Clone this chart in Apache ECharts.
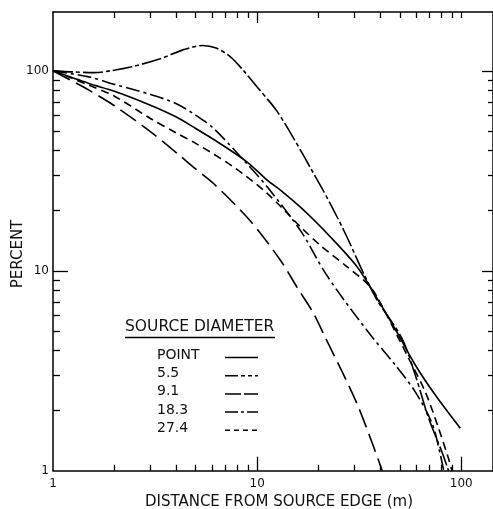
<!DOCTYPE html>
<html><head><meta charset="utf-8">
<script src="https://cdn.jsdelivr.net/npm/echarts@6/dist/echarts.min.js"></script>
<style>html,body{margin:0;padding:0;background:#fff}#c{width:493px;height:509px}</style>
</head><body><div id="c"></div>
<script>
// ---- data ----
const seriesNames = ['POINT', '5.5', '9.1', '18.3', '27.4'];

const pointX = [1, 1.5, 2, 3, 4, 5, 6.1, 8.9, 11.2, 13, 16.9, 22.8, 30.8, 38.7, 47.5, 59.5, 74.6, 98.9];
const pointY = [100, 86.5, 79, 67.3, 58.9, 51.5, 45.5, 35.1, 28.4, 25.3, 20.1, 14.8, 10.5, 7.28, 5.1, 3.38, 2.39, 1.63];

const d55X = [1, 1.25, 1.6, 1.9, 2.4, 3.35, 4.3, 5.4, 6.3, 7.4, 8.6, 10, 12.4, 15.3, 18.5, 22.8, 27.5, 33.2, 38.7, 51.2, 59.5, 69.2, 80.4, 86.6];
const d55Y = [100, 98.8, 98, 100, 104.5, 115, 127, 134, 130, 117.5, 100, 83, 63.6, 44.9, 31.9, 21.7, 14.8, 9.7, 7.14, 4.59, 3.01, 1.83, 1.24, 1.0];

const d91X = [1, 1.5, 2, 3, 4, 5, 6.1, 9.2, 13, 15.65, 18.9, 21.1, 30.8, 41];
const d91Y = [100, 80.1, 66.9, 49.7, 39.1, 32.3, 27.4, 17.9, 11.3, 8.3, 6.12, 4.86, 2.17, 1.0];

const d183X = [1, 1.5, 2, 3, 4, 5, 6.1, 8.9, 11.2, 16.5, 21.1, 26.5, 36.5, 47.5, 59.5, 72, 79, 82];
const d183Y = [100, 93.3, 85.6, 76.2, 68.7, 60, 51.7, 34.4, 26.3, 15.6, 10.1, 7.2, 4.68, 3.38, 2.48, 1.72, 1.2, 1.0];

const d274X = [1, 1.5, 2, 3, 4, 5, 7.65, 11.2, 16.3, 20.4, 27.5, 34.5, 38.7, 55.2, 66.6, 77.4, 86.6, 90];
const d274Y = [100, 84.8, 74.7, 57.8, 49, 43.4, 33.1, 24.4, 16.6, 13.4, 10.5, 8.65, 7.4, 3.65, 2.48, 1.63, 1.15, 1.0];

const tickLabels = [1, 10, 100];
const minorLow = [2, 3, 4, 5, 6, 7, 8, 9];
const minorHigh = [20, 30, 40, 50, 60, 70, 80, 90];

const xTitle = 'DISTANCE FROM SOURCE EDGE (m)';
const yTitle = 'PERCENT';
const legendTitle = 'SOURCE DIAMETER';

// ---- styles ----
const FONT = 'DejaVu Sans';
const INK = '#000';
const dashes = ['solid', [20, 3, 4, 3], [19, 7], [14, 4, 3, 4], [8, 5]];
const legendDashes = [null, [13, 3, 4, 3, 4, 3], [16, 3], [13, 3, 3, 3], [5, 4]];

const XMIN = 1, XMAX = 143, YMIN = 1, YMAX = 197;

function axis(kind, pos, ticks, len, showLabel, showLine) {
  const a = {
    type: 'log', logBase: 10, position: pos, gridIndex: 0,
    min: kind === 'x' ? XMIN : YMIN, max: kind === 'x' ? XMAX : YMAX,
    splitLine: { show: false },
    axisLine: { show: showLine, lineStyle: { color: INK, width: 1.5 } },
    axisTick: { show: true, inside: true, length: len, customValues: ticks,
      lineStyle: { color: INK, width: 1.3 } },
    axisLabel: { show: showLabel }
  };
  if (showLabel) {
    a.axisLabel = { show: true, customValues: tickLabels, margin: kind === 'x' ? 7 : 4,
      color: '#111', fontSize: 12, fontFamily: FONT };
  }
  return a;
}

const xs = [pointX, d55X, d91X, d183X, d274X];
const ys = [pointY, d55Y, d91Y, d183Y, d274Y];

const series = seriesNames.map((name, k) => ({
  name: name, type: 'line', xAxisIndex: 0, yAxisIndex: 0,
  data: xs[k].map((x, i) => [x, ys[k][i]]),
  showSymbol: false, symbol: 'none', smooth: 0.3,
  lineStyle: { color: INK, width: 1.6, type: dashes[k] },
  silent: true, z: 5
}));

const graphic = [
  { type: 'text', x: 279, y: 502, style: { text: xTitle, font: '15px "DejaVu Sans"', fill: '#111', textAlign: 'center', textVerticalAlign: 'middle' } },
  { type: 'text', x: 18, y: 254, rotation: Math.PI / 2, style: { text: yTitle, font: '15px "DejaVu Sans"', fill: '#111', textAlign: 'center', textVerticalAlign: 'middle' } },
  { type: 'text', x: 125, y: 327, style: { text: legendTitle, font: '15.5px "DejaVu Sans"', fill: '#111', textAlign: 'left', textVerticalAlign: 'middle' } },
  { type: 'line', shape: { x1: 125, y1: 337.5, x2: 275, y2: 337.5 }, style: { stroke: INK, lineWidth: 1.5 } }
];
seriesNames.forEach((name, i) => {
  graphic.push({ type: 'text', x: 157, y: 355 + 18.4 * i,
    style: { text: name, font: '14px "DejaVu Sans"', fill: '#111', textAlign: 'left', textVerticalAlign: 'middle' } });
  graphic.push({ type: 'line', shape: { x1: 225, y1: 357.5 + 18.2 * i, x2: 258, y2: 357.5 + 18.2 * i },
    style: { stroke: INK, lineWidth: 1.5, lineDash: legendDashes[i] } });
});

const chart = echarts.init(document.getElementById('c'), null, { renderer: 'canvas' });
chart.setOption({
  animation: false,
  backgroundColor: '#fff',
  grid: { left: 53, right: 0, top: 12, bottom: 38.3, containLabel: false, outerBoundsMode: 'none' },
  xAxis: [
    axis('x', 'bottom', [10, 100], 14, true, true),
    axis('x', 'bottom', minorLow.concat(minorHigh), 6, false, false),
    axis('x', 'top', [10], 11, false, true),
    axis('x', 'top', minorLow.concat(minorHigh, [100]), 6, false, false)
  ],
  yAxis: [
    axis('y', 'left', [10], 15, true, true),
    axis('y', 'left', minorLow.concat(minorHigh, [100]), 7, false, false),
    axis('y', 'right', [10, 100], 11, false, true),
    axis('y', 'right', minorLow.concat(minorHigh), 5, false, false)
  ],
  series: series,
  graphic: graphic
});
</script>
</body></html>
